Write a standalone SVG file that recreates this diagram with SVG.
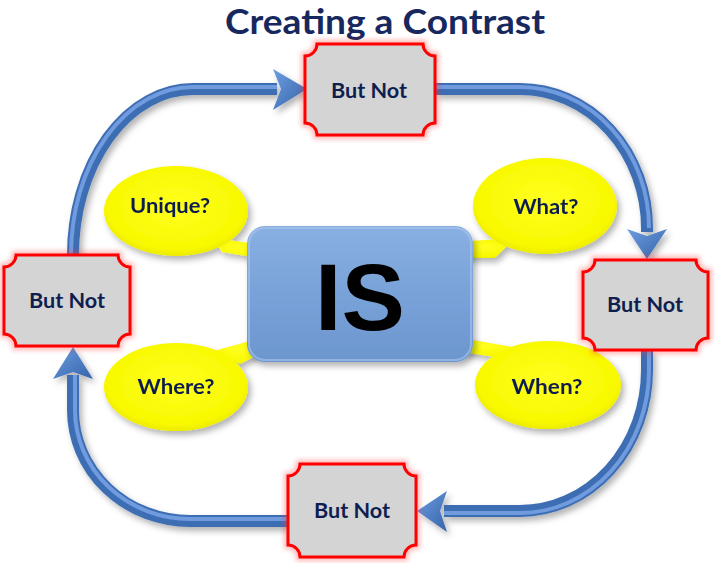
<svg xmlns="http://www.w3.org/2000/svg" width="724" height="563" viewBox="0 0 724 563">
<defs>
<style>
.lbl{font-family:Lato,"Liberation Sans",sans-serif;font-weight:bold;font-size:21px;fill:#0F1E50;text-anchor:middle}
.plaque{fill:#D4D4D4;stroke:#FF0000;stroke-width:3}
.glow{fill:none;stroke:#FF3030;stroke-width:8;opacity:0.35}
.bubble{fill:url(#yel)}
.line{fill:none;stroke:#3E6DB3;stroke-width:12;stroke-linecap:butt}
.hl{fill:none;stroke:#6F9BDE;stroke-width:4}
.head{fill:url(#arr)}
</style>
<radialGradient id="yel" cx="0.5" cy="0.45" r="0.6">
<stop offset="0" stop-color="#FFFF20"/>
<stop offset="0.8" stop-color="#F8F800"/>
<stop offset="1" stop-color="#E2E200"/>
</radialGradient>
<linearGradient id="isg" x1="0" y1="0" x2="0" y2="1">
<stop offset="0" stop-color="#8AB0E2"/>
<stop offset="0.5" stop-color="#78A2D8"/>
<stop offset="1" stop-color="#6C96CE"/>
</linearGradient>
<linearGradient id="arr" x1="0" y1="0" x2="1" y2="1">
<stop offset="0" stop-color="#6E9DE0"/>
<stop offset="1" stop-color="#3563AA"/>
</linearGradient>
<filter id="sh" x="-20%" y="-20%" width="140%" height="150%">
<feDropShadow dx="3" dy="4" stdDeviation="3" flood-color="#000" flood-opacity="0.3"/>
</filter>
<filter id="bl" x="-20%" y="-20%" width="140%" height="140%">
<feGaussianBlur stdDeviation="2.5"/>
</filter>
</defs>
<rect width="724" height="563" fill="#FFFFFF"/>
<text x="385" y="34" font-family="Lato,'Liberation Sans',sans-serif" font-weight="bold" font-size="34" fill="#17285E" text-anchor="middle" textLength="320" lengthAdjust="spacingAndGlyphs">Creating a Contrast</text>

<g id="connectors" filter="url(#sh)">
<path class="line" d="M435,89 L520,89 A127,139 0 0 1 647,228 L647,232"/>
<path class="hl" d="M435,87 L520,87 A129,141 0 0 1 649,228"/>
<polygon class="head" points="647,259 627,229 647,236 667,229"/>
<path class="line" d="M647,350 L647,370 A127,141 0 0 1 520,511 L444,511"/>
<path class="hl" d="M649,350 L649,370 A129,143 0 0 1 520,513 L444,513"/>
<polygon class="head" points="417,511 447,491 440,511 447,532"/>
<path class="line" d="M288,521 L190,521 A117,111 0 0 1 73,410 L73,375"/>
<path class="hl" d="M288,519 L190,519 A115,109 0 0 1 75,410 L75,375"/>
<polygon class="head" points="73,347 93,379 73,372 53,379"/>
<path class="line" d="M73,255 A120,166 0 0 1 193,89 L277,89"/>
<path class="hl" d="M71,255 A122,168 0 0 1 193,87 L277,87"/>
<polygon class="head" points="307,89 273,69 281,89 273,110"/>
</g>

<g id="unique" filter="url(#sh)">
<polygon class="bubble" points="212,238 265,245 265,259 222,252"/>
<ellipse class="bubble" cx="176" cy="211" rx="72" ry="45"/>
<text class="lbl" x="170" y="213" textLength="80" lengthAdjust="spacingAndGlyphs">Unique?</text>
</g>
<g id="what" filter="url(#sh)">
<polygon class="bubble" points="455,242 515,238 495,258 455,258"/>
<ellipse class="bubble" cx="545" cy="206" rx="72" ry="48"/>
<text class="lbl" x="546" y="214" textLength="65" lengthAdjust="spacingAndGlyphs">What?</text>
</g>
<g id="where" filter="url(#sh)">
<polygon class="bubble" points="210,352 265,337 265,351 240,364"/>
<ellipse class="bubble" cx="176" cy="387" rx="72" ry="44"/>
<text class="lbl" x="176" y="394" textLength="77" lengthAdjust="spacingAndGlyphs">Where?</text>
</g>
<g id="when" filter="url(#sh)">
<polygon class="bubble" points="455,337 518,348 495,357 455,351"/>
<ellipse class="bubble" cx="548" cy="385" rx="73" ry="44"/>
<text class="lbl" x="547" y="394" textLength="71" lengthAdjust="spacingAndGlyphs">When?</text>
</g>

<g id="is">
<rect x="247" y="226" width="226" height="136" rx="18" fill="url(#isg)" filter="url(#sh)"/>
<rect x="249" y="228" width="222" height="132" rx="16" fill="none" stroke="#A8C6EE" stroke-width="2" opacity="0.6"/>
<text x="360" y="330" font-family="'Liberation Sans',Arial,sans-serif" font-weight="bold" font-size="95" fill="#000" text-anchor="middle">IS</text>
</g>

<g id="butnot-top">
<path class="glow" filter="url(#bl)" d="M317,44 L423,44 A12,12 0 0 0 435,56 L435,123 A12,12 0 0 0 423,135 L317,135 A12,12 0 0 0 305,123 L305,56 A12,12 0 0 0 317,44 Z"/>
<path class="plaque" d="M317,44 L423,44 A12,12 0 0 0 435,56 L435,123 A12,12 0 0 0 423,135 L317,135 A12,12 0 0 0 305,123 L305,56 A12,12 0 0 0 317,44 Z"/>
<text class="lbl" x="369" y="98" textLength="76" lengthAdjust="spacingAndGlyphs">But Not</text>
</g>
<g id="butnot-right">
<path class="glow" filter="url(#bl)" d="M595,260 L696,260 A12,12 0 0 0 708,272 L708,338 A12,12 0 0 0 696,350 L595,350 A12,12 0 0 0 583,338 L583,272 A12,12 0 0 0 595,260 Z"/>
<path class="plaque" d="M595,260 L696,260 A12,12 0 0 0 708,272 L708,338 A12,12 0 0 0 696,350 L595,350 A12,12 0 0 0 583,338 L583,272 A12,12 0 0 0 595,260 Z"/>
<text class="lbl" x="645" y="312" textLength="76" lengthAdjust="spacingAndGlyphs">But Not</text>
</g>
<g id="butnot-bottom">
<path class="glow" filter="url(#bl)" d="M300,464 L404,464 A12,12 0 0 0 416,476 L416,545 A12,12 0 0 0 404,557 L300,557 A12,12 0 0 0 288,545 L288,476 A12,12 0 0 0 300,464 Z"/>
<path class="plaque" d="M300,464 L404,464 A12,12 0 0 0 416,476 L416,545 A12,12 0 0 0 404,557 L300,557 A12,12 0 0 0 288,545 L288,476 A12,12 0 0 0 300,464 Z"/>
<text class="lbl" x="352" y="518" textLength="76" lengthAdjust="spacingAndGlyphs">But Not</text>
</g>
<g id="butnot-left">
<path class="glow" filter="url(#bl)" d="M16,255 L118,255 A12,12 0 0 0 130,267 L130,334 A12,12 0 0 0 118,346 L16,346 A12,12 0 0 0 4,334 L4,267 A12,12 0 0 0 16,255 Z"/>
<path class="plaque" d="M16,255 L118,255 A12,12 0 0 0 130,267 L130,334 A12,12 0 0 0 118,346 L16,346 A12,12 0 0 0 4,334 L4,267 A12,12 0 0 0 16,255 Z"/>
<text class="lbl" x="67" y="308" textLength="76" lengthAdjust="spacingAndGlyphs">But Not</text>
</g>
</svg>
